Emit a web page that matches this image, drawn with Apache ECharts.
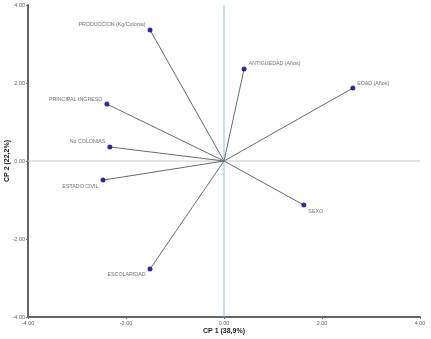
<!DOCTYPE html>
<html>
<head>
<meta charset="utf-8">
<script src="https://cdn.jsdelivr.net/npm/echarts@6/dist/echarts.min.js"></script>
<style>
  html, body { margin: 0; padding: 0; background: #fff; }
  #chart { width: 431px; height: 339px; }
</style>
</head>
<body>
<div id="chart"></div>
<script>
// variable names and their loadings on CP1 / CP2
const variables = ['PRODUCCION (Kg/Colonia)', 'PRINCIPAL INGRESO', 'No COLONIAS', 'ESTADO CIVIL',
    'ESCOLARIDAD', 'SEXO', 'EDAD (Años)', 'ANTIGUEDAD (Años)'];
const cp1 = [-1.51, -2.39, -2.33, -2.47, -1.51, 1.63, 2.63, 0.41];
const cp2 = [3.36, 1.46, 0.36, -0.49, -2.77, -1.13, 1.87, 2.36];

const xName = 'CP 1 (38,9%)';
const yName = 'CP 2 (22,2%)';

const fontFamily = 'Liberation Sans, Arial, sans-serif';

// label placement per variable (left/right, above/below)
function labelFor(i) {
    const x = cp1[i], y = cp2[i];
    const side = x < 0 ? 'left' : 'right';
    const above = y > 0 || i === 2;
    return {
        show: true,
        position: side,
        distance: 2,
        offset: [0, above ? -5 : 6],
        formatter: variables[i],
        fontSize: 5.3,
        color: '#4a4a4a',
        fontFamily
    };
}

const chart = echarts.init(document.getElementById('chart'));

const lineSeries = variables.map((v, i) => ({
    type: 'line',
    data: [[0, 0], [cp1[i], cp2[i]]],
    symbol: 'none',
    silent: true,
    lineStyle: { color: '#6b6b6b', width: 1 },
    z: 3
}));

chart.setOption({
    animation: false,
    grid: { left: 28, right: 11, top: 5, bottom: 22, containLabel: false, outerBoundsMode: 'none' },
    xAxis: {
        type: 'value', min: -4, max: 4, interval: 2,
        name: xName, nameLocation: 'middle', nameGap: 11, nameMoveOverlap: false,
        nameTextStyle: { fontSize: 7, fontWeight: 'bold', color: '#222', fontFamily },
        axisLine: { show: true, onZero: false, lineStyle: { color: '#666', width: 2 } },
        axisTick: { show: true, length: 2, lineStyle: { color: '#666' } },
        axisLabel: { fontSize: 5.5, color: '#666', margin: 3, fontFamily, formatter: v => v.toFixed(2) },
        splitLine: { show: false }
    },
    yAxis: {
        type: 'value', min: -4, max: 4, interval: 2,
        name: yName, nameLocation: 'middle', nameGap: 17, nameRotate: 90, nameMoveOverlap: false,
        nameTextStyle: { fontSize: 7, fontWeight: 'bold', color: '#222', fontFamily },
        axisLine: { show: true, onZero: false, lineStyle: { color: '#666', width: 2 } },
        axisTick: { show: true, length: 2, lineStyle: { color: '#666' } },
        axisLabel: { fontSize: 5.5, color: '#666', margin: 3, fontFamily, formatter: v => v.toFixed(2) },
        splitLine: { show: false }
    },
    series: [
        {
            // vertical reference line at CP1 = 0
            type: 'line',
            data: [[0, -4], [0, 4]],
            symbol: 'none',
            silent: true,
            lineStyle: { color: '#8fc0e0', width: 1 },
            z: 1
        },
        {
            // horizontal reference line at CP2 = 0
            type: 'line',
            data: [[-4, 0], [4, 0]],
            symbol: 'none',
            silent: true,
            lineStyle: { color: '#c4c8cc', width: 1 },
            z: 1
        },
        ...lineSeries,
        {
            type: 'scatter',
            data: variables.map((v, i) => ({ value: [cp1[i], cp2[i]], label: labelFor(i) })),
            symbolSize: 5,
            itemStyle: { color: '#00007a' },
            z: 5
        }
    ]
});
</script>
</body>
</html>
